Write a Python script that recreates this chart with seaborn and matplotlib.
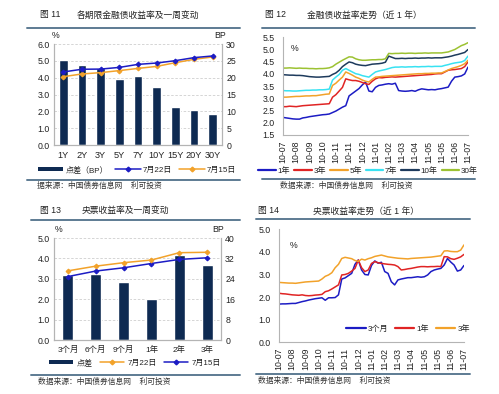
import numpy as np
import pandas as pd
import seaborn as sns
from matplotlib import pyplot as plt
from matplotlib.lines import Line2D
from matplotlib.patches import Patch

# ---- figure 11: financial bond yields by tenor ----
tenors = ["1Y", "2Y", "3Y", "5Y", "7Y", "10Y", "15Y", "20Y", "30Y"]
fin_spread_bp = [25.3, 23.9, 23.0, 19.5, 20.6, 17.2, 11.4, 10.3, 9.1]
fin_jul22 = [4.34, 4.50, 4.51, 4.61, 4.79, 4.87, 5.01, 5.19, 5.29]
fin_jul15 = [4.06, 4.22, 4.30, 4.42, 4.55, 4.67, 4.89, 5.09, 5.23]

# ---- figure 13: central bank bill yields by term ----
cb_terms = ["3个月", "6个月", "9个月", "1年", "2年", "3年"]
cb_spread_bp = [25.3, 26.0, 22.8, 16.2, 33.2, 29.3]
cb_jul22 = [3.39, 3.62, 3.79, 3.92, 4.28, 4.30]
cb_jul15 = [3.11, 3.38, 3.54, 3.75, 3.95, 4.03]

# ---- time series (one year) ----
date_ticks = ["10-07", "10-08", "10-09", "10-10", "10-11", "10-11", "10-12",
              "11-01", "11-02", "11-03", "11-04", "11-05", "11-05", "11-06",
              "11-07"]

fin_1y = [2.22, 2.20, 2.18, 2.16, 2.15, 2.15, 2.20, 2.22, 2.25, 2.27,
          2.29, 2.31, 2.33, 2.34, 2.36, 2.42, 2.48, 2.56, 2.64, 2.70,
          3.10, 3.20, 3.30, 3.40, 3.55, 3.67, 3.30, 3.27, 3.45, 3.53,
          3.55, 3.58, 3.60, 3.58, 3.62, 3.32, 3.30, 3.29, 3.30, 3.32,
          3.29, 3.35, 3.39, 3.37, 3.35, 3.36, 3.35, 3.38, 3.40, 3.43,
          3.46, 3.70, 3.87, 3.89, 3.92, 4.00, 4.28]
fin_3y = [2.66, 2.66, 2.68, 2.67, 2.66, 2.68, 2.70, 2.71, 2.72, 2.73,
          2.74, 2.75, 2.76, 2.77, 2.78,
          3.05, 3.15, 3.30, 3.45, 3.80, 3.76, 3.73, 3.73, 3.70, 3.65, 3.60, 3.57,
          3.70, 3.80, 3.85, 3.84, 3.86, 3.87, 3.88, 3.87,
          3.88, 3.89, 3.90, 3.91, 3.92, 3.93, 3.94, 3.95, 3.96, 3.97, 3.98, 4.00, 4.01,
          4.01, 4.08, 4.15, 4.17, 4.18, 4.20, 4.22, 4.30, 4.49]
fin_5y = [3.05, 3.05, 3.06, 3.07, 3.08, 3.08, 3.09, 3.10, 3.10, 3.11,
          3.11, 3.13, 3.15, 3.17, 3.18,
          3.53, 3.62, 3.75, 3.87, 4.08, 4.02, 3.95, 3.87, 3.82, 3.75, 3.70, 3.67,
          3.78, 3.87, 3.88, 3.90, 3.91, 3.92, 3.93, 3.94,
          3.95, 3.96, 3.97, 3.98, 3.99, 4.00, 4.01, 4.01, 4.02, 4.02, 4.03, 4.03, 4.04,
          4.04, 4.10, 4.16, 4.22, 4.26, 4.30, 4.35, 4.42, 4.56]
fin_7y = [3.32, 3.31, 3.31, 3.30, 3.30, 3.31, 3.32, 3.33, 3.33, 3.34, 3.34, 3.35, 3.35, 3.36,
          3.38, 3.75, 3.87, 3.98, 4.15, 4.22, 4.15, 4.08, 4.01, 3.98, 3.93, 3.90, 3.87,
          3.98, 4.08, 4.12, 4.15, 4.18, 4.22, 4.26, 4.28,
          4.28, 4.29, 4.28, 4.29, 4.29, 4.30, 4.29, 4.30, 4.30, 4.31, 4.30, 4.31, 4.31,
          4.31, 4.35, 4.38, 4.42, 4.45, 4.47, 4.49, 4.55, 4.73]
fin_10y = [3.97, 3.96, 3.95, 3.95, 3.94, 3.94, 3.93, 3.91, 3.89, 3.88,
           3.87, 3.87, 3.88, 3.89, 3.90,
           3.98, 4.04, 4.15, 4.30, 4.40, 4.49,
           4.46, 4.40, 4.37, 4.35, 4.34, 4.37, 4.40, 4.41, 4.42, 4.44, 4.48,
           4.73, 4.68, 4.63, 4.63, 4.64, 4.63, 4.64, 4.64, 4.65, 4.64, 4.65, 4.65,
           4.66, 4.65, 4.66, 4.66,
           4.66, 4.68, 4.70, 4.73, 4.77, 4.80, 4.84, 4.88, 5.00]
fin_30y = [4.24, 4.24, 4.25, 4.24, 4.23, 4.24, 4.23, 4.23, 4.22, 4.22,
           4.21, 4.22, 4.22, 4.23, 4.25,
           4.30, 4.40, 4.48, 4.56, 4.63, 4.70,
           4.69, 4.62, 4.58, 4.56, 4.56, 4.57, 4.58, 4.58, 4.59, 4.59, 4.62,
           4.84, 4.83, 4.84, 4.84, 4.85, 4.84, 4.85, 4.85, 4.84, 4.85, 4.85, 4.86,
           4.85, 4.86, 4.86, 4.86,
           4.86, 4.88, 4.90, 4.95, 5.00, 5.08, 5.16, 5.21, 5.28]

cb_3m = [1.69, 1.70, 1.70, 1.71, 1.72, 1.72, 1.76, 1.80, 1.83, 1.87,
         1.90, 1.93, 1.95, 1.97, 1.86, 1.97, 1.97, 1.98, 2.10, 2.80,
         2.85, 2.95, 3.05, 3.45, 3.64, 3.20, 3.00, 2.98, 3.40, 3.60,
         3.50, 3.54, 3.13, 3.05, 2.68, 2.54, 2.76, 2.80, 2.83, 2.86,
         2.86, 2.88, 2.90, 2.88, 2.90, 2.98, 3.13, 3.20, 3.24, 3.27,
         3.42, 3.71, 3.55, 3.42, 3.15, 3.20, 3.40]
cb_1y = [2.17, 2.15, 2.14, 2.12, 2.10, 2.09, 2.08, 2.10, 2.07, 2.06,
         2.07, 2.09, 2.10, 2.12, 2.24, 2.28, 2.36, 2.45, 2.54, 2.98,
         3.00, 3.05, 3.15, 3.27, 3.64, 3.30, 3.13, 3.20, 3.49, 3.57,
         3.52, 3.49, 3.47, 3.45, 3.44, 3.42, 3.35, 3.20, 3.22, 3.25,
         3.27, 3.30, 3.33, 3.35, 3.35, 3.34, 3.35, 3.35, 3.36, 3.35,
         3.79, 3.78, 3.70, 3.67, 3.72, 3.78, 3.89]
cb_3y = [2.65, 2.64, 2.63, 2.62, 2.62, 2.61, 2.63, 2.65, 2.67, 2.68,
         2.69, 2.70, 2.71, 2.80, 2.92, 2.98, 3.08, 3.30, 3.45, 3.71,
         3.76, 3.73, 3.70, 3.62, 3.58, 3.68, 3.64, 3.70, 3.74, 3.80,
         3.83, 3.86, 3.82, 3.78, 3.76, 3.74, 3.72, 3.71, 3.70, 3.69,
         3.71, 3.72, 3.73, 3.74, 3.75, 3.76, 3.77, 3.79, 3.81, 3.83,
         4.04, 4.05, 4.02, 4.01, 4.01, 4.08, 4.31]

NAVY = "#0e2a52"
BLUE = "#1c1cc4"
ORANGE = "#f2a22a"
RED = "#e02424"
GREY = "#b4b4b4"
RULE = "#5d7b93"

W, H = 499, 394


def box(x0, y0, x1, y1):
    return [x0 / W, 1 - y1 / H, (x1 - x0) / W, (y1 - y0) / H]


def at(x, y):
    return x / W, 1 - y / H


sns.set_theme(style="white")
plt.rcParams["font.family"] = ["Liberation Sans", "Noto Sans CJK SC"]
plt.rcParams["text.color"] = "#222222"
plt.rcParams["xtick.color"] = "#222222"
plt.rcParams["ytick.color"] = "#222222"

fig = plt.figure(figsize=(W / 100, H / 100), dpi=100)
fig.patch.set_facecolor("white")

FS = 6.3


def frame(title_no, title, x0, x1, ytop, ybot, tx, ty, tx2, src, srcx, srcy):
    fig.add_artist(Line2D([x0 / W, x1 / W], [1 - ytop / H] * 2, color=RULE, lw=1.4))
    fig.add_artist(Line2D([x0 / W, x1 / W], [1 - ybot / H] * 2, color=RULE, lw=1.4))
    fig.text(*at(tx, ty), title_no, fontsize=6.3, va="center", ha="left")
    fig.text(*at(tx2, ty), title, fontsize=6.3, va="center", ha="left")
    fig.text(*at(srcx, srcy), src, fontsize=5.6, va="center", ha="left", color="#333333")


def bar_panel(rect, cats, spread, l22, l15, c22, c15, ylim, rlim, lstep, rstep, bw):
    ax = fig.add_axes(rect)
    axr = ax.twinx()
    sns.barplot(x=cats, y=spread, ax=axr, color=NAVY, width=bw, saturation=1)
    sns.pointplot(x=cats, y=l15, ax=ax, color=c15, markers="D", markersize=2.4,
                  linewidth=1.1, errorbar=None)
    sns.pointplot(x=cats, y=l22, ax=ax, color=c22, markers="D", markersize=2.4,
                  linewidth=1.1, errorbar=None)
    ax.set_zorder(axr.get_zorder() + 1)
    ax.patch.set_visible(False)
    ax.set_ylim(*ylim)
    axr.set_ylim(*rlim)
    ax.set_yticks(np.arange(ylim[0], ylim[1] + 0.01, lstep))
    ax.set_yticklabels([f"{v:.1f}" for v in np.arange(ylim[0], ylim[1] + 0.01, lstep)])
    axr.set_yticks(np.arange(rlim[0], rlim[1] + 0.01, rstep))
    axr.yaxis.grid(True, linestyle=(0, (3, 2)), color="#cfcfcf", lw=0.6)
    axr.set_axisbelow(True)
    for a in (ax, axr):
        a.set_xlabel("")
        a.set_ylabel("")
        a.tick_params(length=0, labelsize=FS, pad=3)
        a.spines["top"].set_visible(False)
        for s in ("left", "right", "bottom"):
            a.spines[s].set_color(GREY)
            a.spines[s].set_linewidth(0.8)
    ax.tick_params(axis="x", labelsize=6.6, pad=4)
    return ax, axr


def line_panel(rect, series, palette, ylim, step):
    ax = fig.add_axes(rect)
    df = pd.DataFrame(series)
    df["idx"] = np.arange(len(df))
    long = df.melt(id_vars="idx", var_name="term", value_name="yield")
    sns.lineplot(data=long, x="idx", y="yield", hue="term", palette=palette,
                 ax=ax, linewidth=1.1, legend=False)
    n = len(df)
    ax.set_xlim(0, n - 1)
    ax.set_ylim(*ylim)
    ax.set_xticks(np.linspace(0, n - 1, len(date_ticks)))
    ax.set_xticklabels(date_ticks, rotation=90)
    ticks = np.arange(ylim[0], ylim[1] + 0.01, step)
    ax.set_yticks(ticks)
    ax.set_yticklabels([f"{v:.1f}" for v in ticks])
    ax.set_xlabel("")
    ax.set_ylabel("")
    ax.tick_params(axis="both", labelsize=FS, length=2, width=0.6, color=GREY, pad=2)
    ax.tick_params(axis="y", pad=4)
    for s in ("top", "right"):
        ax.spines[s].set_visible(False)
    for s in ("left", "bottom"):
        ax.spines[s].set_color(GREY)
        ax.spines[s].set_linewidth(0.8)
    return ax


# ---------------- 图 11 ----------------
frame("图 11", "各期限金融债收益率及一周变动", 27, 240, 27.5, 179.5, 40, 15, 77,
      "据来源：中国债券信息网    利可投资", 37, 186)
ax11, ax11r = bar_panel(box(54, 44, 222, 145), tenors, fin_spread_bp, fin_jul22, fin_jul15,
                        BLUE, ORANGE, (0, 6), (0, 30), 1, 5, 0.45)
fig.text(*at(52, 36), "%", fontsize=FS, va="center")
fig.text(*at(226, 36), "BP", fontsize=FS, va="center", ha="right")
h11 = [Patch(facecolor=NAVY, edgecolor="none"),
       Line2D([], [], color=BLUE, lw=1.1, marker="D", markersize=2.4),
       Line2D([], [], color=ORANGE, lw=1.1, marker="D", markersize=2.4)]
fig.legend(h11, ["点差（BP）", "7月22日", "7月15日"], loc="center", bbox_to_anchor=at(137, 170),
           ncol=3, frameon=False, fontsize=5.8, handlelength=3.2, handleheight=0.5,
           handletextpad=0.3, columnspacing=0.8)

# ---------------- 图 12 ----------------
frame("图 12", "金融债收益率走势（近 1 年）", 262, 475, 27.5, 179, 265, 15, 307,
      "数据来源：中国债券信息网    利可投资", 280, 186)
pal12 = {"1年": BLUE, "3年": RED, "5年": ORANGE, "7年": "#38e2f2",
         "10年": "#1d3a5c", "30年": "#9cc232"}
ax12 = line_panel(box(283, 37.3, 468, 135),
                  {"1年": fin_1y, "3年": fin_3y, "5年": fin_5y, "7年": fin_7y,
                   "10年": fin_10y, "30年": fin_30y}, pal12, (1.5, 5.5), 0.5)
ax12.text(0.04, 0.93, "%", transform=ax12.transAxes, fontsize=FS, va="top")
h12 = [Line2D([], [], color=c, lw=1.6) for c in pal12.values()]
fig.legend(h12, list(pal12.keys()), loc="center", bbox_to_anchor=at(368, 171), ncol=6,
           frameon=False, fontsize=5.8, handlelength=2.2, handletextpad=0.2,
           columnspacing=0.5)

# ---------------- 图 13 ----------------
frame("图 13", "央票收益率及一周变动", 31, 240, 219.5, 374.5, 40, 210, 82,
      "数据来源：中国债券信息网    利可投资", 38, 382)
ax13, ax13r = bar_panel(box(54, 238, 221, 340), cb_terms, cb_spread_bp, cb_jul22, cb_jul15,
                        ORANGE, BLUE, (0, 5), (0, 40), 1, 8, 0.4)
ax13.tick_params(axis="x", labelsize=6.0)
fig.text(*at(55, 230), "%", fontsize=FS, va="center")
fig.text(*at(224, 230), "BP", fontsize=FS, va="center", ha="right")
h13 = [Patch(facecolor=NAVY, edgecolor="none"),
       Line2D([], [], color=ORANGE, lw=1.1, marker="D", markersize=2.4),
       Line2D([], [], color=BLUE, lw=1.1, marker="D", markersize=2.4)]
fig.legend(h13, ["点差", "7月22日", "7月15日"], loc="center", bbox_to_anchor=at(135, 363),
           ncol=3, frameon=False, fontsize=5.8, handlelength=3.0, handleheight=0.5,
           handletextpad=0.4, columnspacing=0.9)

# ---------------- 图 14 ----------------
frame("图 14", "央票收益率走势（近 1 年）", 256, 470, 219, 373.5, 258, 211, 313,
      "数据来源：中国债券信息网    利可投资", 258, 381)
pal14 = {"3个月": BLUE, "1年": RED, "3年": ORANGE}
ax14 = line_panel(box(279, 229.3, 464, 342.3),
                  {"3个月": cb_3m, "1年": cb_1y, "3年": cb_3y}, pal14, (0, 5), 1)
ax14.text(0.06, 0.9, "%", transform=ax14.transAxes, fontsize=FS, va="top")
h14 = [Line2D([], [], color=c, lw=1.6) for c in pal14.values()]
fig.legend(h14, list(pal14.keys()), loc="center", bbox_to_anchor=at(408, 329), ncol=3,
           frameon=False, fontsize=5.8, handlelength=2.4, handletextpad=0.3,
           columnspacing=0.8)

fig.savefig("out.png", dpi=100, facecolor="white")
